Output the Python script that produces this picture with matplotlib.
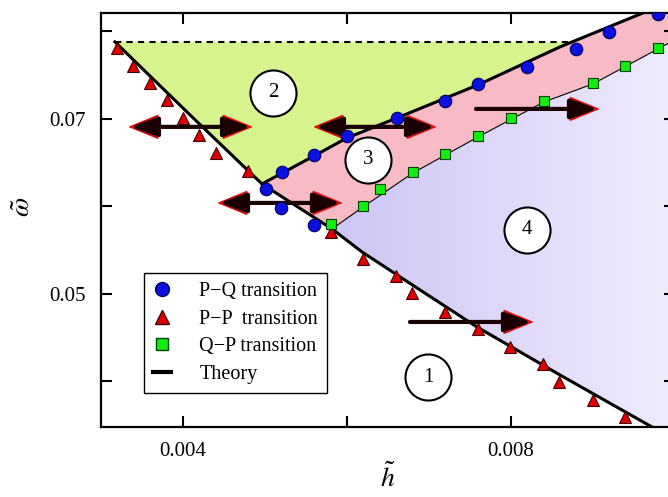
import matplotlib

matplotlib.use("Agg")

import matplotlib.pyplot as plt
import numpy as np
from matplotlib.lines import Line2D
from matplotlib.patches import Polygon

plt.rcParams["font.family"] = ["Liberation Serif", "DejaVu Serif"]
plt.rcParams["mathtext.fontset"] = "stix"

# --- transition points (h~, omega~) ---
pq_h = [0.005012, 0.005207, 0.005598, 0.006000, 0.006610, 0.007195, 0.007598,
        0.008195, 0.008793, 0.009195, 0.009793, 0.005195, 0.005598]
pq_w = [0.06200, 0.06394, 0.06589, 0.06806, 0.07011, 0.07206, 0.07400,
        0.07594, 0.07800, 0.07994, 0.08200, 0.05983, 0.05789]

pp_h = [0.003195, 0.003390, 0.003598, 0.003805, 0.004000, 0.004195, 0.004402,
        0.004793, 0.005805, 0.006195, 0.006598, 0.006793, 0.007195, 0.007598,
        0.007988, 0.008390, 0.008585, 0.009000, 0.009390]
pp_w = [0.07811, 0.07606, 0.07411, 0.07217, 0.07011, 0.06817, 0.06611,
        0.06406, 0.05709, 0.05400, 0.05206, 0.05011, 0.04794, 0.04600,
        0.04394, 0.04200, 0.03994, 0.03789, 0.03594]

qp_h = [0.005805, 0.006195, 0.006402, 0.006805, 0.007195, 0.007598, 0.008000,
        0.008402, 0.009000, 0.009390, 0.009793]
qp_w = [0.05800, 0.06006, 0.06200, 0.06394, 0.06600, 0.06806, 0.07011,
        0.07206, 0.07411, 0.07606, 0.07811]

# --- theory curves ---
lo_h = [0.00317, 0.004085, 0.004963, 0.005817, 0.006183, 0.00689, 0.007585, 0.008598, 0.00972]
lo_w = [0.0788, 0.07046, 0.06257, 0.05743, 0.0548, 0.05046, 0.04623, 0.04074, 0.0348]
up_h = [0.004963, 0.005598, 0.006000, 0.006610, 0.007598, 0.008598, 0.00961]
up_w = [0.06257, 0.06577, 0.06783, 0.07011, 0.07389, 0.07823, 0.08211]
th_qp_h = [0.005817, 0.006195, 0.006805, 0.007598, 0.008402, 0.009000, 0.009793, 0.010]
th_qp_w = [0.05743, 0.05994, 0.06383, 0.06794, 0.07194, 0.07400, 0.07800, 0.07903]
dash_w = 0.0788

XMIN, XMAX = 0.003, 0.010
YMIN, YMAX = 0.0348, 0.0821

fig = plt.figure(figsize=(6.68, 4.97), dpi=100)
ax = fig.add_axes([101 / 668, 70 / 497, 574 / 668, 414 / 497])
ax.set_xlim(XMIN, XMAX)
ax.set_ylim(YMIN, YMAX)

lo_h_a, lo_w_a = np.array(lo_h), np.array(lo_w)
up_h_a, up_w_a = np.array(up_h), np.array(up_w)
tq_h, tq_w = np.array(th_qp_h), np.array(th_qp_w)
iv = 2   # vertex index on lower curve
ij = 3   # junction with Q-P line

# region 2 (green)
h_int = np.interp(dash_w, up_w_a, up_h_a)
below = up_w_a < dash_w
gx = list(lo_h_a[:iv + 1]) + list(up_h_a[below][1:]) + [h_int]
gy = list(lo_w_a[:iv + 1]) + list(up_w_a[below][1:]) + [dash_w]
ax.add_patch(Polygon(np.column_stack([gx, gy]), closed=True, fc="#d6f38e", ec="none", zorder=1))

# region 3 (pink)
px = list(up_h_a) + [XMAX, XMAX] + list(tq_h[::-1]) + list(lo_h_a[iv:ij + 1][::-1])
py = list(up_w_a) + [YMAX, tq_w[-1]] + list(tq_w[::-1]) + list(lo_w_a[iv:ij + 1][::-1])
ax.add_patch(Polygon(np.column_stack([px, py]), closed=True, fc="#f8bac5", ec="none", zorder=1))

# region 4 (lavender gradient)
lx = list(tq_h) + [XMAX] + list(lo_h_a[ij:][::-1])
ly = list(tq_w) + [YMIN] + list(lo_w_a[ij:][::-1])
lav = Polygon(np.column_stack([lx, ly]), closed=True, fc="none", ec="none", zorder=1)
ax.add_patch(lav)
c0 = np.array([205, 197, 244]) / 255
c1 = np.array([240, 236, 253]) / 255
t = np.linspace(0, 1, 256)[None, :, None]
grad = c0 + (c1 - c0) * t
im = ax.imshow(grad, extent=(lo_h_a[ij], XMAX, YMIN, YMAX), aspect="auto",
               origin="lower", zorder=1, interpolation="bilinear")
im.set_clip_path(lav)
ax.set_xlim(XMIN, XMAX)
ax.set_ylim(YMIN, YMAX)

# theory lines
ax.plot(lo_h, lo_w, color="black", lw=2.2, zorder=3)
ax.plot(up_h, up_w, color="black", lw=2.2, zorder=3)
ax.plot(th_qp_h, th_qp_w, color="black", lw=0.8, zorder=3)
ax.plot([lo_h[0], h_int], [dash_w, dash_w], color="black", lw=1.5,
        ls=(0, (3, 2.5)), zorder=3)

# arrows (black shaft, red glow heads)
arrows = [
    (0.003329, 0.004854, 0.06909, True),
    (0.005585, 0.007098, 0.06909, True),
    (0.004415, 0.005951, 0.06040, True),
    (0.007573, 0.009085, 0.07114, False),
    (0.006768, 0.008280, 0.04680, False),
]
for x0, x1, y, both in arrows:
    st = "<|-|>" if both else "-|>"
    ax.annotate("", xy=(x1, y), xytext=(x0, y),
                arrowprops=dict(arrowstyle=f"{st},head_length=1.1,head_width=0.45",
                                color="#e01010", lw=1.2, shrinkA=0, shrinkB=0,
                                mutation_scale=18), zorder=4)
    ax.annotate("", xy=(x1 - 0.00003, y), xytext=(x0 + 0.00003 if both else x0, y),
                arrowprops=dict(arrowstyle=f"{st},head_length=0.9,head_width=0.33",
                                color="#1a0000", lw=3.0, shrinkA=0, shrinkB=0,
                                mutation_scale=18), zorder=4)

# markers
ax.plot(pq_h, pq_w, "o", ms=9, mfc="#0a10e0", mec="#000060", mew=0.8, ls="", zorder=5)
ax.plot(pp_h, pp_w, "^", ms=9, mfc="#e00000", mec="#400000", mew=0.8, ls="", zorder=5)
ax.plot(qp_h, qp_w, "s", ms=7.5, mfc="#10ee10", mec="#004000", mew=0.8, ls="", zorder=5)

# circled region numbers
regions = [("1", 0.006988, 0.04051), ("2", 0.005098, 0.07297),
           ("3", 0.006256, 0.06531), ("4", 0.008195, 0.05731)]
for lab, x, y in regions:
    ax.scatter([x], [y], s=1100, fc="white", ec="black", lw=1.5, zorder=6)
    ax.text(x, y, lab, ha="center", va="center", fontsize=15, zorder=7)

# axes styling
ax.set_xticks([0.004, 0.006, 0.008, 0.010])
ax.set_xticklabels(["0.004", "", "0.008", ""])
ax.set_yticks([0.04, 0.05, 0.06, 0.07, 0.08])
ax.set_yticklabels(["", "0.05", "", "0.07", ""])
ax.tick_params(direction="in", top=True, right=True, length=8, width=1.5,
               labelsize=15, pad=11)
for sp in ax.spines.values():
    sp.set_linewidth(1.6)

fig.text(388 / 668, 1 - 478 / 497, r"$\tilde{h}$", fontsize=20, ha="center", va="center")
fig.text(23 / 668, 1 - 207 / 497, r"$\tilde{\omega}$", fontsize=20, ha="center",
         va="center", rotation=90)

handles = [
    Line2D([], [], marker="o", ls="", ms=10, mfc="#0a10e0", mec="#000060", label="P\u2212Q transition"),
    Line2D([], [], marker="^", ls="", ms=10, mfc="#e00000", mec="#400000", label="P\u2212P  transition"),
    Line2D([], [], marker="s", ls="", ms=8, mfc="#10ee10", mec="#004000", label="Q\u2212P transition"),
    Line2D([], [], color="black", lw=3, label="Theory"),
]
leg = ax.legend(handles=handles, loc="upper left", bbox_to_anchor=(0.075, 0.372),
                borderaxespad=0, fontsize=14.5, frameon=True, fancybox=False,
                edgecolor="black", framealpha=1, handlelength=0.9,
                handletextpad=1.4, labelspacing=0.42, borderpad=0.45)
leg.get_frame().set_linewidth(1.0)
leg.set_zorder(8)

fig.savefig("out.png", dpi=100)
